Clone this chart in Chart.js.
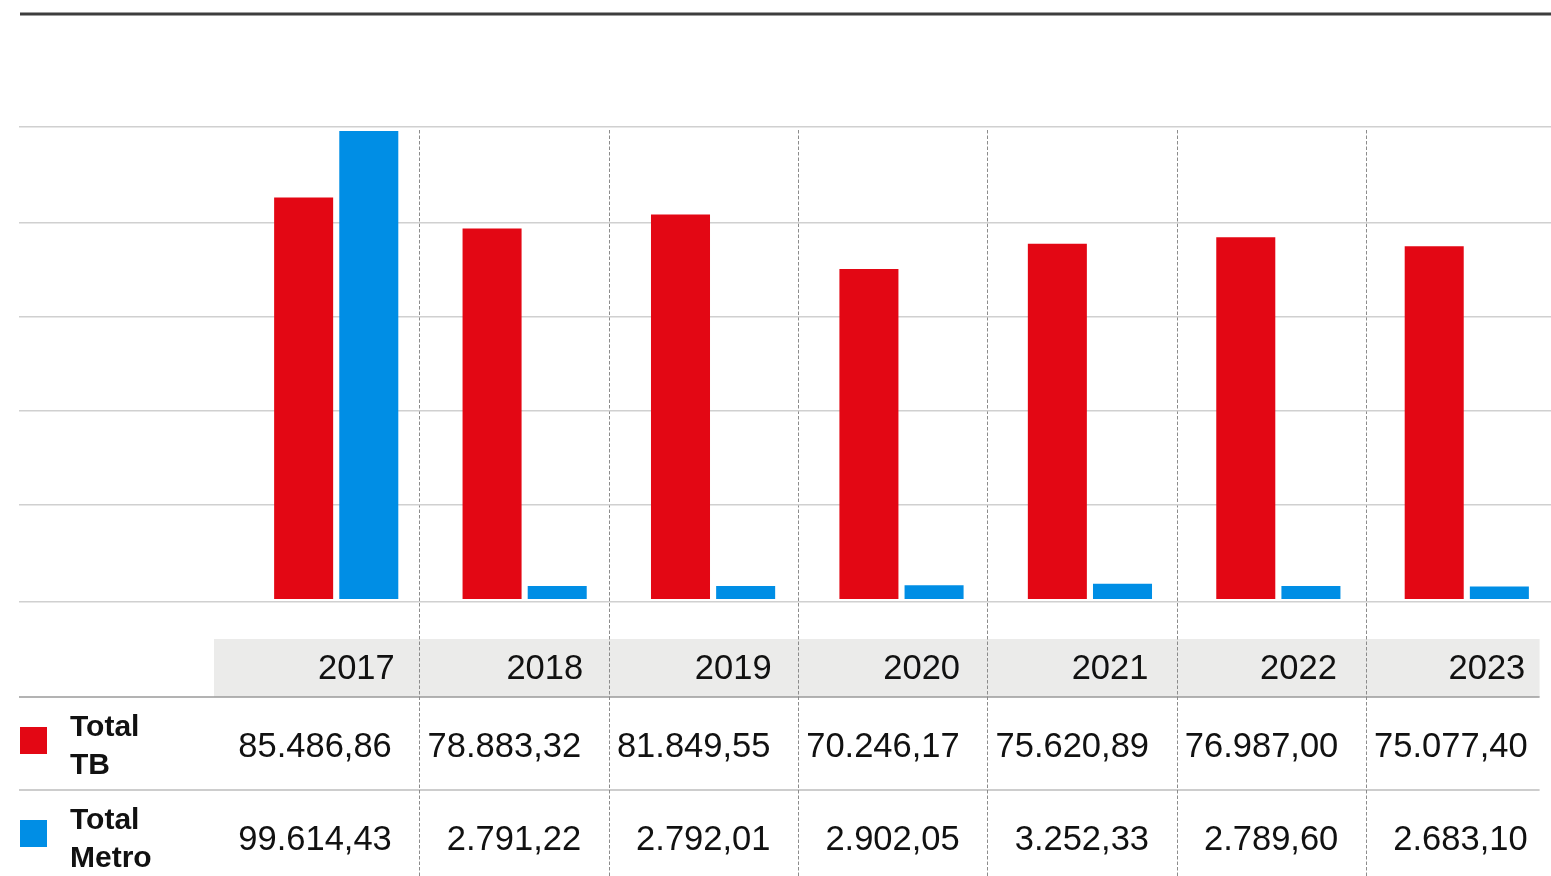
<!DOCTYPE html>
<html>
<head>
<meta charset="utf-8">
<script src="https://cdn.jsdelivr.net/npm/chart.js@4.4.1/dist/chart.umd.min.js"></script>
<style>
  html, body { margin: 0; padding: 0; background: #fff; overflow: hidden; }
  canvas { display: block; }
</style>
</head>
<body>
<canvas id="barChart" width="1562" height="876"></canvas>
<script>
const years = ['2017', '2018', '2019', '2020', '2021', '2022', '2023'];
const totalTB = [85486.86, 78883.32, 81849.55, 70246.17, 75620.89, 76987.00, 75077.40];
const totalMetro = [99614.43, 2791.22, 2792.01, 2902.05, 3252.33, 2789.60, 2683.10];
const rowNames = [['Total', 'TB'], ['Total', 'Metro']];
const gridValues = [20000, 40000, 60000, 80000];

const RED = '#e30714';
const BLUE = '#008ee5';
const FONT = '"Liberation Sans", Helvetica, Arial, sans-serif';

// 85486.86 -> "85.486,86"
const fmt = v => {
    const [int, dec] = v.toFixed(2).split('.');
    return int.replace(/\B(?=(\d{3})+(?!\d))/g, '.') + ',' + dec;
};

// value table under the bars
const colLeft = 230, colWidth = 189.3, textInset = 27.5;
const colRight = i => colLeft + (i + 1) * colWidth;
const tableRight = colRight(years.length - 1) - 15.5;

const tablePlugin = {
    id: 'dataTable',
    beforeDraw(chart) {
        const ctx = chart.ctx;
        ctx.save();

        // heavy rule along the top
        ctx.strokeStyle = '#3d3d3d';
        ctx.lineWidth = 3;
        ctx.beginPath();
        ctx.moveTo(20, 14);
        ctx.lineTo(chart.width, 14);
        ctx.stroke();

        // header band behind the years
        ctx.fillStyle = '#ebebea';
        ctx.fillRect(214, 639, tableRight - 214, 58);

        // row rules
        ctx.lineWidth = 1.5;
        ctx.strokeStyle = '#9a9a9a';
        ctx.beginPath();
        ctx.moveTo(19, 697);
        ctx.lineTo(tableRight, 697);
        ctx.stroke();
        ctx.strokeStyle = '#bdbdbd';
        ctx.beginPath();
        ctx.moveTo(19, 790);
        ctx.lineTo(tableRight, 790);
        ctx.stroke();

        // dashed column separators
        ctx.strokeStyle = '#8c8c8c';
        ctx.lineWidth = 1;
        ctx.setLineDash([3.5, 2]);
        for (let i = 0; i < years.length - 1; i++) {
            const x = Math.round(colRight(i)) + 0.5;
            ctx.beginPath();
            ctx.moveTo(x, 130);
            ctx.lineTo(x, chart.height);
            ctx.stroke();
        }
        ctx.restore();
    },
    afterDraw(chart) {
        const ctx = chart.ctx;
        const rows = [totalTB, totalMetro];
        const colors = [RED, BLUE];
        const rowTops = [697, 790];
        ctx.save();
        rows.forEach((values, r) => {
            const top = rowTops[r];
            ctx.fillStyle = colors[r];
            ctx.fillRect(20, top + 30, 27, 27);

            ctx.fillStyle = '#111';
            ctx.textAlign = 'left';
            ctx.textBaseline = 'alphabetic';
            ctx.font = 'bold 30px ' + FONT;
            ctx.fillText(rowNames[r][0], 70, top + 38.5);
            ctx.fillText(rowNames[r][1], 70, top + 76.5);

            ctx.textAlign = 'right';
            ctx.font = '34.5px ' + FONT;
            values.forEach((v, i) => {
                ctx.fillText(fmt(v), colRight(i) - textInset, top + 60);
            });
        });
        ctx.restore();
    }
};

const canvas = document.getElementById('barChart');
const ctx = canvas.getContext('2d');

new Chart(ctx, {
    type: 'bar',
    data: {
        labels: years,
        datasets: [
            { label: 'Total TB', data: totalTB, backgroundColor: RED },
            { label: 'Total Metro', data: totalMetro, backgroundColor: BLUE }
        ]
    },
    options: {
        responsive: false,
        maintainAspectRatio: false,
        animation: false,
        layout: { padding: { left: 19, top: 127, right: 1, bottom: 0 } },
        datasets: {
            bar: { categoryPercentage: 0.6915, barPercentage: 0.906 }
        },
        plugins: {
            legend: { display: false },
            tooltip: { enabled: false }
        },
        scales: {
            x: {
                grid: { display: false },
                border: { display: false },
                ticks: {
                    align: 'end',
                    labelOffset: 58.5,
                    padding: 39,
                    maxRotation: 0,
                    autoSkip: false,
                    color: '#111',
                    font: { family: FONT, size: 34.5 }
                },
                afterFit: s => { s.height = 274; }
            },
            y: {
                // bars stand a little above the bottom grid line
                min: -640,
                max: 100470,
                border: { display: false },
                grid: { color: '#d0d0d0', lineWidth: 1.5, tickLength: 223 },
                ticks: { display: false },
                afterBuildTicks: s => {
                    s.ticks = [s.min, ...gridValues, s.max].map(value => ({ value }));
                }
            }
        }
    },
    plugins: [tablePlugin]
});
</script>
</body>
</html>
